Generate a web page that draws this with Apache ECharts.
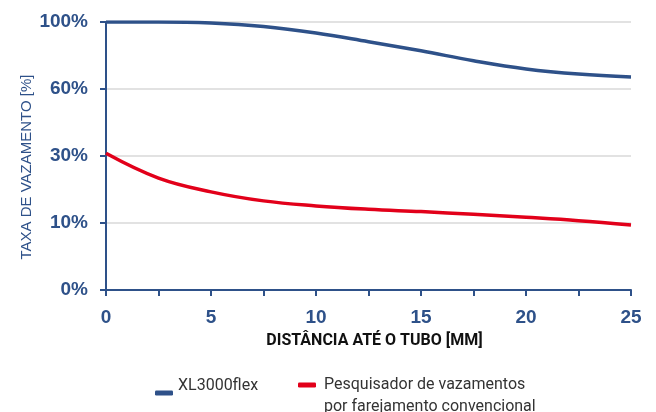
<!DOCTYPE html>
<html>
<head>
<meta charset="utf-8">
<script src="https://cdn.jsdelivr.net/npm/echarts@6/dist/echarts.min.js"></script>
<style>
  html, body { margin: 0; padding: 0; background: #fff; }
  #chart { width: 656px; height: 412px; }
</style>
</head>
<body>
<div id="chart"></div>
<script>
// distancia ate o tubo [mm]
const distances = [0, 2.5, 5, 7.5, 10, 12.5, 15, 17.5, 20, 22.5, 25];
// taxa de vazamento [%]
const xl3000 = [100, 100, 99.4, 97.3, 93.4, 88.2, 82.8, 76.9, 72, 68.9, 67.2];
const sniffer = [31.2, 23.4, 19.3, 16.6, 15.1, 14.1, 13.4, 12.6, 11.7, 10.7, 9.7];
// eixo y nao linear: rotulos igualmente espacados
const yTicks = [0, 10, 30, 60, 100];
const yLabels = ['0%', '10%', '30%', '60%', '100%'];
const seriesNames = ['XL3000flex', 'Pesquisador de vazamentos\npor farejamento convencional'];

// converte % para a posicao no eixo (0..4)
function toAxis(p) {
  for (let i = 0; i < yTicks.length - 1; i++) {
    if (p <= yTicks[i + 1]) {
      return i + (p - yTicks[i]) / (yTicks[i + 1] - yTicks[i]);
    }
  }
  return yTicks.length - 1;
}
const pts = (arr) => distances.map((d, i) => [d, toAxis(arr[i])]);

const blue = '#2e5189';
const red = '#e2001a';
const legendBase = {
  padding: 0,
  icon: 'roundRect',
  itemWidth: 18,
  itemHeight: 5,
  textStyle: { fontFamily: 'Roboto', fontSize: 16, color: '#333' }
};

const chart = echarts.init(document.getElementById('chart'));
chart.setOption({
  animation: false,
  grid: { left: 106, right: 25, top: 22, bottom: 122 },
  legend: [
    Object.assign({}, legendBase, {
      left: 155, top: 378,
      data: [seriesNames[0]],
      formatter: (n) => n + '\n ',
      textStyle: Object.assign({}, legendBase.textStyle, { lineHeight: 14 })
    }),
    Object.assign({}, legendBase, {
      left: 298, top: 352,
      data: [seriesNames[1]],
      formatter: (n) => ' \n' + n,
      textStyle: Object.assign({}, legendBase.textStyle, { lineHeight: 22, padding: [0, 0, 0, 3] })
    })
  ],
  xAxis: {
    type: 'value',
    min: 0, max: 25, interval: 5,
    name: 'DISTÂNCIA ATÉ O TUBO [MM]',
    nameLocation: 'middle',
    nameGap: 43,
    nameTextStyle: { fontFamily: 'Roboto', fontWeight: 'bold', fontSize: 16, color: '#111', padding: [0, 0, 0, 12] },
    axisLine: { lineStyle: { color: blue, width: 2 } },
    axisTick: { show: true, length: 6, lineStyle: { color: blue, width: 2 } },
    minorTick: { show: true, splitNumber: 2, length: 6, lineStyle: { color: blue, width: 2 } },
    splitLine: { show: false },
    axisLabel: { margin: 18, fontFamily: 'Liberation Sans', fontWeight: 'bold', fontSize: 19, color: blue }
  },
  yAxis: {
    type: 'value',
    min: 0, max: 4, interval: 1,
    name: 'TAXA DE VAZAMENTO [%]',
    nameLocation: 'middle',
    nameGap: 72,
    nameMoveOverlap: false,
    nameTextStyle: { fontFamily: 'Liberation Sans', fontSize: 15, color: blue, padding: [0, 22, 0, 0] },
    axisLine: { show: true, lineStyle: { color: blue, width: 2 } },
    axisTick: { show: true, length: 6, lineStyle: { color: blue, width: 2 } },
    splitLine: { lineStyle: { color: '#d9d9d9', width: 1.5 } },
    axisLabel: {
      margin: 18,
      fontFamily: 'Liberation Sans', fontWeight: 'bold', fontSize: 19, color: blue,
      formatter: (v) => yLabels[Math.round(v)]
    }
  },
  series: [
    {
      name: seriesNames[0],
      type: 'line',
      smooth: 0.4,
      showSymbol: false,
      data: pts(xl3000),
      itemStyle: { color: blue },
      lineStyle: { color: blue, width: 3.5 },
      z: 3
    },
    {
      name: seriesNames[1],
      type: 'line',
      smooth: 0.4,
      showSymbol: false,
      data: pts(sniffer),
      itemStyle: { color: red },
      lineStyle: { color: red, width: 3.5 },
      z: 3
    }
  ]
});
</script>
</body>
</html>
